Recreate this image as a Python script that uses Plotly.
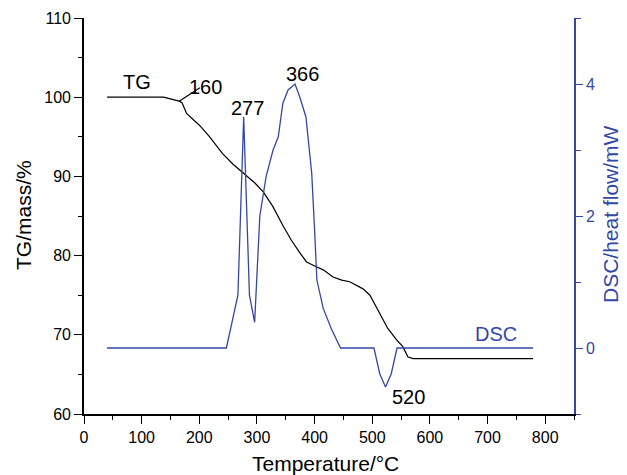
import plotly.graph_objects as go

# TG curve (temperature °C, mass %)
tg_temp = [40, 138, 165, 170, 178, 201, 218, 240, 259, 279, 296, 311, 328, 345, 360,
           374, 386, 403, 415, 432, 447, 461, 484, 496, 513, 527, 542, 553, 562, 571, 779]
tg_mass = [100.0, 100.0, 99.5, 99.3, 97.95, 96.4, 95.0, 92.9, 91.5, 90.3, 89.2, 88.05, 86.15,
           83.8, 81.9, 80.4, 79.2, 78.6, 78.2, 77.3, 76.9, 76.7, 75.8, 75.0, 72.7, 70.8,
           69.4, 68.5, 67.2, 67.0, 67.0]

# DSC curve (temperature °C, heat flow mW)
dsc_temp = [40, 247, 267, 277, 287, 296, 305, 316, 328, 337, 345, 354, 366, 374, 385,
            395, 400, 404, 415, 429, 445, 503, 513, 523, 533, 543, 779]
dsc_flow = [0.0, 0.0, 0.8, 3.5, 0.8, 0.39, 2.0, 2.6, 3.0, 3.2, 3.71, 3.91, 4.0, 3.81, 3.5,
            2.65, 1.79, 1.03, 0.6, 0.29, 0.0, 0.0, -0.39, -0.59, -0.39, 0.0, 0.0]

# Text labels (placed in TG axis coordinates)
label_text = ["TG", "160", "277", "366", "520"]
label_x = [92, 210, 283, 379, 563]
label_y = [101.9, 101.3, 98.7, 102.9, 62.1]
dsc_label = "DSC"
dsc_label_x = 714
dsc_label_y = 70.1

# Leader line for the 160 label
leader_x = [165, 201]
leader_y = [99.5, 101.2]

# Axis titles
x_title = "Temperature/°C"
y_title = "TG/mass/%"
y2_title = "DSC/heat flow/mW"

BLUE = "#3347a8"
FONT = "Liberation Sans, Arial, Helvetica, sans-serif"

fig = go.Figure()
fig.add_trace(go.Scatter(x=tg_temp, y=tg_mass, mode="lines",
                         line=dict(color="black", width=1.2), showlegend=False))
fig.add_trace(go.Scatter(x=leader_x, y=leader_y, mode="lines",
                         line=dict(color="black", width=1.2), showlegend=False))
fig.add_trace(go.Scatter(x=dsc_temp, y=dsc_flow, mode="lines", yaxis="y2",
                         line=dict(color=BLUE, width=1.3), showlegend=False))

for t, x, y in zip(label_text, label_x, label_y):
    fig.add_annotation(x=x, y=y, text=t, showarrow=False, xref="x", yref="y",
                       font=dict(size=20, color="black", family=FONT))
fig.add_annotation(x=dsc_label_x, y=dsc_label_y, text=dsc_label, showarrow=False,
                   xref="x", yref="y", font=dict(size=20, color=BLUE, family=FONT))

# plot area on page: x 84..574 px, y 18..414 px (page body has an 8px offset)
PW, PH = 490.0, 396.0
fig.add_annotation(x=(325 - 84) / PW, y=(414 - 463) / PH, xref="paper", yref="paper",
                   text=x_title, showarrow=False, xanchor="center", yanchor="middle",
                   font=dict(size=21, color="black", family=FONT))
fig.add_annotation(x=(23 - 84) / PW, y=(414 - 215) / PH, xref="paper", yref="paper",
                   text=y_title, showarrow=False, textangle=-90, xanchor="center", yanchor="middle",
                   font=dict(size=21, color="black", family=FONT))
fig.add_annotation(x=(610 - 84) / PW, y=(414 - 214) / PH, xref="paper", yref="paper",
                   text=y2_title, showarrow=False, textangle=-90, xanchor="center", yanchor="middle",
                   font=dict(size=21, color=BLUE, family=FONT))

fig.update_layout(
    width=627, height=475,
    margin=dict(l=76, r=61, t=10, b=69, autoexpand=False),
    plot_bgcolor="white", paper_bgcolor="white",
    font=dict(family=FONT, size=16, color="black"),
    xaxis=dict(
        range=[0, 850], tickmode="linear", tick0=0, dtick=100,
        tickvals=[0, 100, 200, 300, 400, 500, 600, 700, 800],
        ticks="outside", ticklen=8, tickwidth=1.3, tickcolor="black",
        minor=dict(ticks="outside", ticklen=4, dtick=50, tick0=0, tickcolor="black", tickwidth=1.3),
        showline=True, linecolor="black", linewidth=1.6, showgrid=False, zeroline=False,
        tickfont=dict(size=16), automargin=False,
    ),
    xaxis2=dict(
        range=[0, 850], overlaying="x", side="top", anchor="y",
        tickmode="linear", tick0=0, dtick=100,
        ticks="inside", ticklen=7, tickwidth=1.3, tickcolor="black",
        minor=dict(ticks="inside", ticklen=4, dtick=50, tick0=0, tickcolor="black", tickwidth=1.3),
        showline=True, linecolor="black", linewidth=1.6, showgrid=False, zeroline=False,
        showticklabels=False, automargin=False,
    ),
    yaxis=dict(
        range=[60, 110], tickmode="linear", tick0=60, dtick=10,
        ticks="outside", ticklen=8, tickwidth=1.3, tickcolor="black",
        minor=dict(ticks="outside", ticklen=4, dtick=5, tick0=60, tickcolor="black", tickwidth=1.3),
        showline=True, linecolor="black", linewidth=1.6, showgrid=False, zeroline=False,
        tickfont=dict(size=16), automargin=False,
    ),
    yaxis2=dict(
        range=[-1, 5], overlaying="y", side="right", anchor="x",
        tickmode="linear", tick0=0, dtick=2,
        ticks="outside", ticklen=7, tickwidth=1.3, tickcolor=BLUE,
        minor=dict(ticks="outside", ticklen=5, dtick=1, tick0=0, tickcolor=BLUE, tickwidth=1.3),
        showline=True, linecolor=BLUE, linewidth=1.6, showgrid=False, zeroline=False,
        tickfont=dict(size=16, color=BLUE), automargin=False,
    ),
)

fig.write_html("out.html")
